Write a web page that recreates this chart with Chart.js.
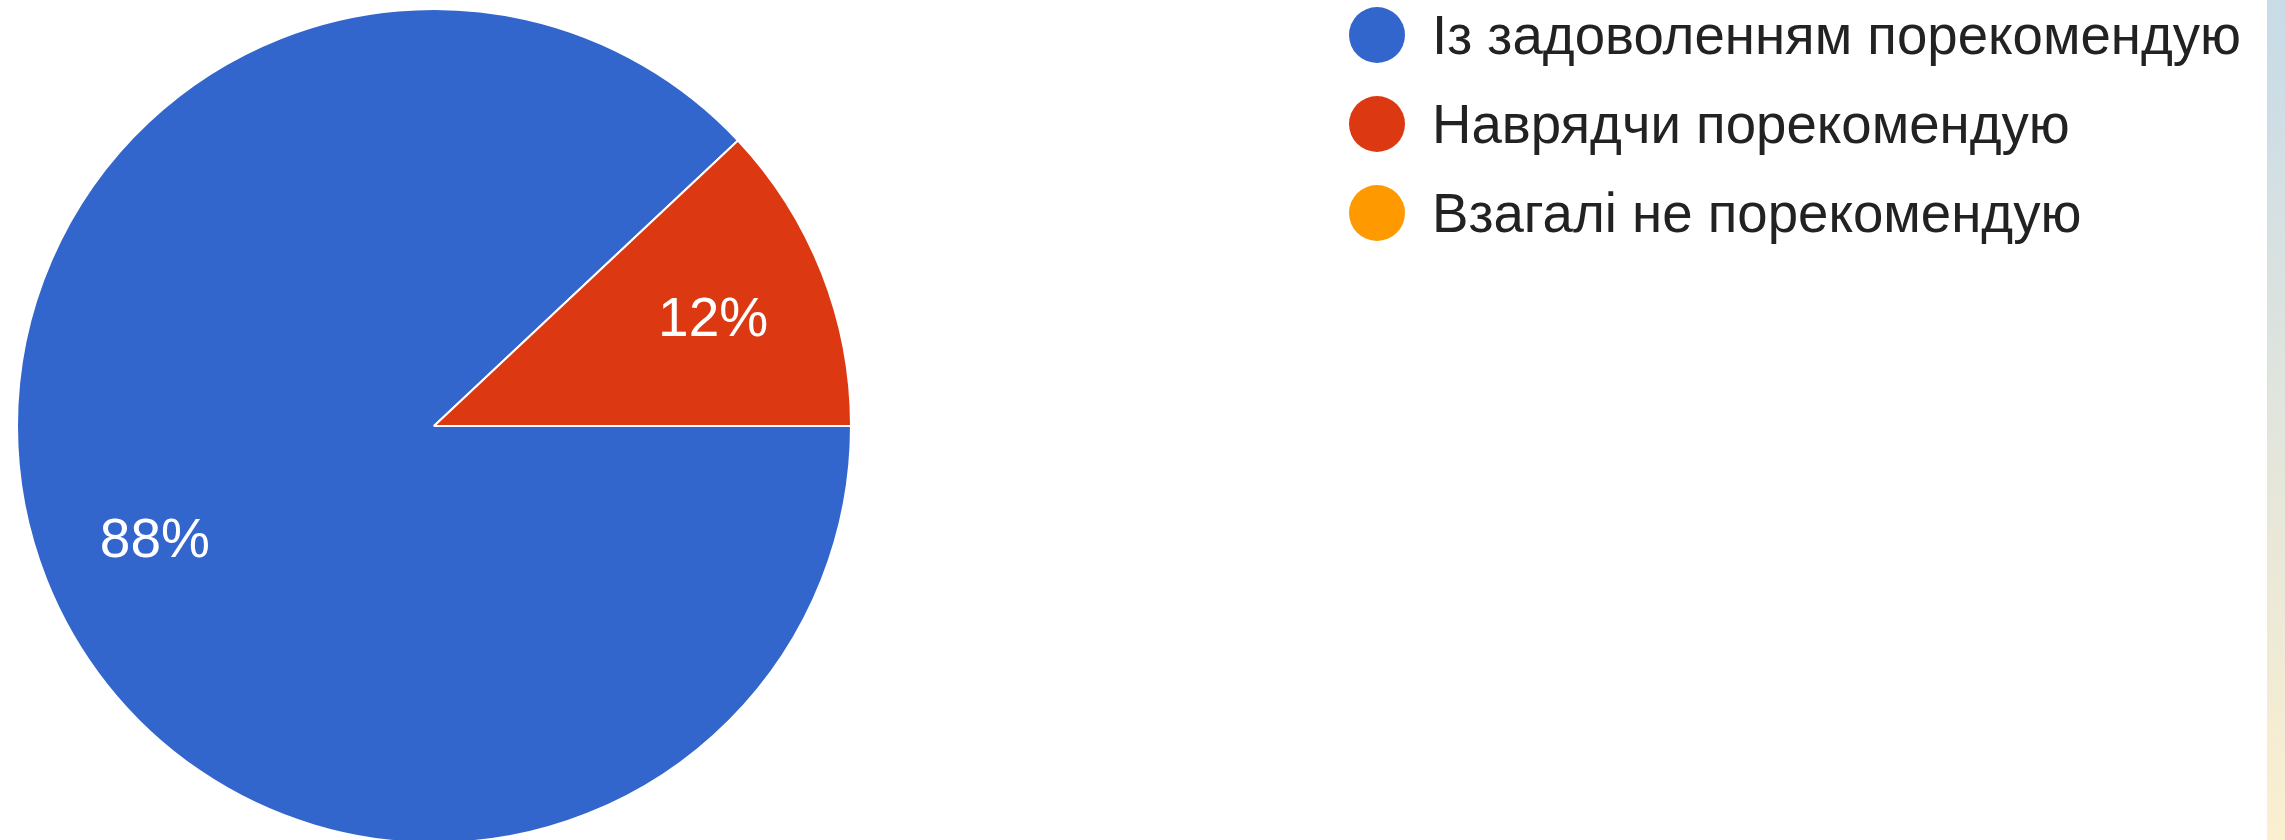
<!DOCTYPE html>
<html>
<head>
<meta charset="utf-8">
<script src="https://cdn.jsdelivr.net/npm/chart.js@4/dist/chart.umd.min.js"></script>
<style>
  html, body { margin: 0; padding: 0; width: 2285px; height: 840px; overflow: hidden; background: #fff; }
  #pieBox { position: absolute; left: 16px; top: 8px; width: 836px; height: 836px; }
  #legend { position: absolute; left: 1349px; top: -10px; font-family: "Liberation Sans", Arial, sans-serif; font-size: 56px; color: #222; }
  #legend .item { height: 89px; display: flex; align-items: center; white-space: nowrap; }
  #legend .dot { width: 56px; height: 56px; border-radius: 50%; margin-right: 27px; flex: none; }
  #legend .name { display: inline-block; transform: scaleX(0.975); transform-origin: left center; }
  #strip { position: absolute; left: 2267px; top: 0; width: 18px; height: 840px; background: linear-gradient(#c8dbe8, #fbefd0); }
</style>
</head>
<body>
<div id="pieBox"><canvas id="pie"></canvas></div>
<div id="legend"></div>
<div id="strip"></div>
<script>
// answers and their share (%)
var labels = ['Із задоволенням порекомендую', 'Наврядчи порекомендую', 'Взагалі не порекомендую'];
var values = [88, 12, 0];
var colors = ['#3366cc', '#dc3912', '#ff9900'];

// percent labels inside the slices
var sliceLabels = {
  id: 'sliceLabels',
  afterDatasetsDraw: function(chart) {
    var ctx = chart.ctx;
    var meta = chart.getDatasetMeta(0);
    var total = values.reduce(function(a, b) { return a + b; }, 0);
    ctx.save();
    ctx.fillStyle = '#ffffff';
    ctx.font = '55px "Liberation Sans", Arial, sans-serif';
    ctx.textAlign = 'center';
    ctx.textBaseline = 'middle';
    meta.data.forEach(function(arc, i) {
      if (!values[i]) return;
      var p = arc.getProps(['x', 'y', 'startAngle', 'endAngle', 'outerRadius'], true);
      var mid = (p.startAngle + p.endAngle) / 2;
      var r = p.outerRadius * 0.72;
      var txt = Math.round(values[i] / total * 100) + '%';
      ctx.fillText(txt, p.x + Math.cos(mid) * r, p.y + Math.sin(mid) * r + 5);
    });
    ctx.restore();
  }
};

var config = {
  type: 'pie',
  data: {
    labels: labels,
    datasets: [{
      data: values,
      backgroundColor: colors,
      borderColor: '#ffffff',
      borderWidth: 2,
      hoverOffset: 0
    }]
  },
  options: {
    responsive: true,
    maintainAspectRatio: false,
    animation: false,
    rotation: 90,
    layout: { padding: 0 },
    plugins: {
      legend: { display: false },
      tooltip: { enabled: false }
    }
  },
  plugins: [sliceLabels]
};

// legend built from the same arrays
var legend = document.getElementById('legend');
labels.forEach(function(name, i) {
  var item = document.createElement('div');
  item.className = 'item';
  var dot = document.createElement('span');
  dot.className = 'dot';
  dot.style.background = colors[i];
  var txt = document.createElement('span');
  txt.className = 'name';
  txt.textContent = name;
  item.appendChild(dot);
  item.appendChild(txt);
  legend.appendChild(item);
});

window.onload = function() {
  var ctx = document.getElementById('pie').getContext('2d');
  window.myPie = new Chart(ctx, config);
};
</script>
</body>
</html>
